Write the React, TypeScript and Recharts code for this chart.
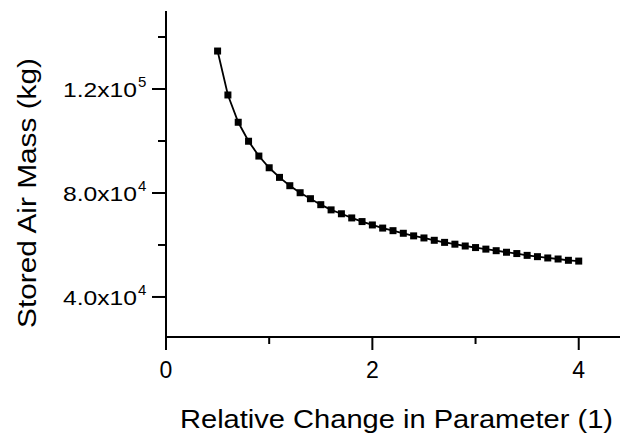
import { Label, Line, LineChart, XAxis, YAxis } from 'recharts';

const relChange = [
  0.5, 0.6, 0.7, 0.8, 0.9, 1.0, 1.1, 1.2, 1.3, 1.4, 1.5, 1.6, 1.7, 1.8, 1.9, 2.0, 2.1, 2.2,
  2.3, 2.4, 2.5, 2.6, 2.7, 2.8, 2.9, 3.0, 3.1, 3.2, 3.3, 3.4, 3.5, 3.6, 3.7, 3.8, 3.9, 4.0,
];
const airMass = [
  134600, 117700, 107200, 99900, 94200, 89700, 86000, 82800, 80100, 77800, 75500, 73500,
  72000, 70400, 69000, 67700, 66500, 65500, 64500, 63500, 62700, 61800, 61000, 60300,
  59600, 59000, 58400, 57800, 57200, 56700, 56000, 55500, 55000, 54600, 54100, 53800,
];

const xTicks = [0, 1, 2, 3, 4];
const xTickLabels: Record<number, string> = { 0: '0', 2: '2', 4: '4' };
const yTicks = [40000, 60000, 80000, 100000, 120000, 140000];
const yTickMantissa: Record<number, string> = { 40000: '4.0x10', 80000: '8.0x10', 120000: '1.2x10' };
const yTickExponent: Record<number, string> = { 40000: '4', 80000: '4', 120000: '5' };

const data = relChange.map((x, i) => ({ x, mass: airMass[i] }));

const FONT = '"Liberation Sans", Arial, sans-serif';

function XTick({ x, y, payload }: any) {
  const label = xTickLabels[payload.value];
  return (
    <g>
      <line x1={x} x2={x} y1={y} y2={y + (label ? 13 : 7)} stroke="#000" strokeWidth={2} />
      {label && (
        <text x={x} y={y + 41} textAnchor="middle" fontSize={23} fontFamily={FONT} fill="#000">
          {label}
        </text>
      )}
    </g>
  );
}

function YTick({ x, y, payload }: any) {
  const mant = yTickMantissa[payload.value];
  return (
    <g>
      <line x1={x} x2={x - (mant ? 14 : 8)} y1={y} y2={y} stroke="#000" strokeWidth={2} />
      {mant && (
        <>
          <text
            x={x - 103}
            y={y + 8}
            fontSize={21}
            textLength={74}
            lengthAdjust="spacingAndGlyphs"
            fontFamily={FONT}
            fill="#000"
          >
            {mant}
          </text>
          <text x={x - 28} y={y - 2} fontSize={15} fontFamily={FONT} fill="#000">
            {yTickExponent[payload.value]}
          </text>
        </>
      )}
    </g>
  );
}

function SquareDot({ cx, cy, index }: any) {
  return <rect key={index} x={cx - 3.5} y={cy - 3.5} width={7} height={7} fill="#000" />;
}

export default function App() {
  return (
    <div style={{ position: 'absolute', left: 0, top: 0, background: '#fff' }}>
      <LineChart width={622} height={436} data={data} margin={{ top: 11, right: 2, bottom: 0, left: 0 }}>
        <XAxis
          type="number"
          dataKey="x"
          domain={[0, 4.4]}
          ticks={xTicks}
          interval={0}
          allowDataOverflow
          height={99}
          tickSize={0}
          tickMargin={0}
          tickLine={false}
          tick={<XTick />}
          axisLine={{ stroke: '#000', strokeWidth: 2 }}
        >
          <Label
            content={() => (
              <text
                x={180}
                y={428}
                fontSize={25}
                textLength={433}
                lengthAdjust="spacingAndGlyphs"
                fontFamily={FONT}
                fill="#000"
              >
                Relative Change in Parameter (1)
              </text>
            )}
          />
        </XAxis>
        <YAxis
          type="number"
          domain={[24600, 150000]}
          ticks={yTicks}
          interval={0}
          allowDataOverflow
          width={166}
          tickSize={0}
          tickMargin={0}
          tickLine={false}
          tick={<YTick />}
          axisLine={{ stroke: '#000', strokeWidth: 2 }}
        >
          <Label
            content={() => (
              <text
                x={36}
                y={328}
                transform="rotate(-90 36 328)"
                fontSize={25}
                textLength={270}
                lengthAdjust="spacingAndGlyphs"
                fontFamily={FONT}
                fill="#000"
              >
                Stored Air Mass (kg)
              </text>
            )}
          />
        </YAxis>
        <Line
          type="linear"
          dataKey="mass"
          stroke="#000"
          strokeWidth={1.8}
          dot={<SquareDot />}
          activeDot={false}
          isAnimationActive={false}
        />
      </LineChart>
    </div>
  );
}
